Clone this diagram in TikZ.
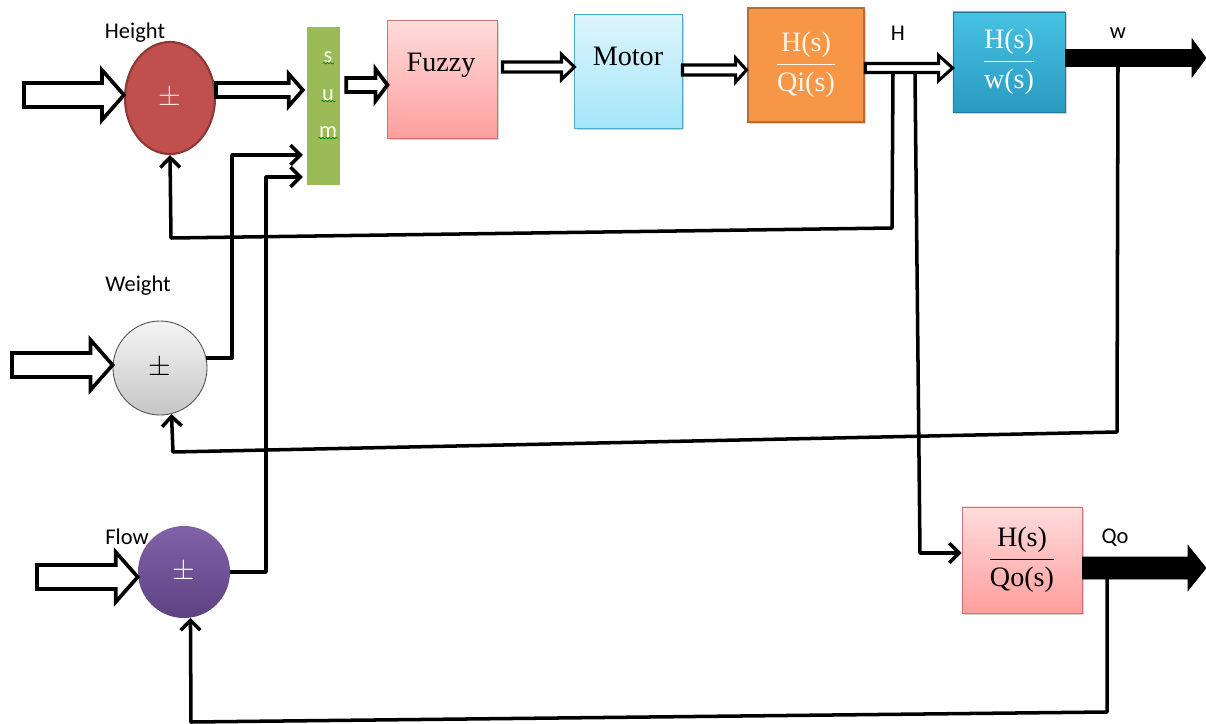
\documentclass[tikz,border=0pt]{standalone}
\usepackage{amsmath}
\usepackage{fontspec}
\setmainfont{Liberation Serif}
\newfontfamily\labelfont{Carlito}
\usetikzlibrary{shapes.geometric,arrows.meta,calc,shadows,decorations.pathmorphing}

\definecolor{hgtred}{HTML}{C0504D}
\definecolor{hgtedge}{HTML}{8C3836}
\definecolor{sumgreen}{HTML}{9BBB59}
\definecolor{qiorange}{HTML}{F79646}
\definecolor{qiedge}{HTML}{B66D31}
\definecolor{motortop}{HTML}{DDF5FD}
\definecolor{motorbot}{HTML}{A5E6F8}
\definecolor{motoredge}{HTML}{4BACC6}
\definecolor{hwtop}{HTML}{46C2E2}
\definecolor{hwbot}{HTML}{2A9AC0}
\definecolor{flwtop}{HTML}{8062A8}
\definecolor{flwbot}{HTML}{5E4382}

% block arrow (outline) from #2 to #3: half body, half head, head length
\newcommand{\hollowarrow}[6][]{%
  \draw[#1] ($(#2)+(0,#4)$) -- ($(#3)+(-#6,#4)$) -- ($(#3)+(-#6,#5)$) -- (#3)
    -- ($(#3)+(-#6,-#5)$) -- ($(#3)+(-#6,-#4)$) -- ($(#2)+(0,-#4)$) -- cycle;}

\begin{document}
\begin{tikzpicture}[
    x=0.025cm, y=-0.025cm, % pixel grid
    hollow/.style={draw=black, fill=white, line width=2.6pt, line join=miter},
    thinhollow/.style={draw=black, fill=white, line width=2.2pt, line join=miter},
    solid arrow/.style={draw=black, fill=black, line width=0.5pt},
    fb/.style={line width=2.5pt, line join=round, -{Straight Barb[length=7pt,width=14pt,line width=2.5pt]}},
    dot/.style={ellipse, inner sep=0pt, font=\fontsize{20}{20}\selectfont},
    shadowed/.style={drop shadow={opacity=0.35, shadow xshift=1.2pt, shadow yshift=-1.5pt}},
    box/.style={rectangle, inner sep=0pt, align=center, font=\fontsize{20}{24}\selectfont, shadowed},
    boxtxt/.style={inner sep=0pt, font=\fontsize{20}{24}\selectfont},
    tag/.style={font=\labelfont\fontsize{16}{18}\selectfont},
    sumletter/.style={font=\labelfont\fontsize{16}{18}\selectfont, text=yellow!8, inner sep=1pt},
    squig/.style={decorate, decoration={snake, amplitude=0.5pt, segment length=2.4pt}, draw=green!55!black, line width=0.5pt}
]
    \useasboundingbox (0,0) rectangle (1206,724);

    % Nodes
    \node[dot, fill=hgtred, draw=hgtedge, line width=1.5pt, minimum width=2.25cm, minimum height=2.8cm, text=red!10] (hgt) at (170,98) {$\pm$};
    \node[dot, top color=gray!8, bottom color=gray!45, draw=gray!60!black, line width=0.6pt, minimum size=2.35cm] (wgt) at (160,368) {$\pm$};
    \node[dot, top color=flwtop, bottom color=flwbot, minimum size=2.3cm, text=white] (flw) at (184,572) {$\pm$};

    \node[rectangle, fill=sumgreen, draw=white, line width=3pt, minimum width=0.93cm, minimum height=4.05cm,
          drop shadow={opacity=0.3, shadow xshift=1pt, shadow yshift=-1.2pt}] (sum) at (323.5,106) {};
    \node[sumletter] (sums) at (328,57) {s};
    \node[sumletter] (sumu) at (328,95) {u};
    \node[sumletter] (summ) at (328,132) {m};

    \node[box, top color=red!14, bottom color=red!38, draw=hgtred!80, line width=0.6pt, minimum width=2.73cm, minimum height=2.93cm] (fuzzy) at (442.5,79.5) {};
    \node[boxtxt] (fuzzytxt) at (441,65) {Fuzzy};
    \node[box, top color=motortop, bottom color=motorbot, draw=motoredge, line width=0.6pt, minimum width=2.68cm, minimum height=2.83cm] (motor) at (628.5,71.5) {};
    \node[boxtxt] (motortxt) at (628,56) {Motor};
    \node[box, fill=qiorange, draw=qiedge, line width=2pt, minimum width=2.9cm, minimum height=2.85cm, text=orange!8] (hqi) at (806,65)
        {$\dfrac{\text{H(s)}}{\text{Qi(s)}}$};
    \node[box, top color=hwtop, bottom color=hwbot, draw=hwbot!80!black, line width=0.5pt, minimum width=2.8cm, minimum height=2.5cm, text=white] (hw) at (1009,62)
        {$\dfrac{\text{H(s)}}{\text{w(s)}}$};
    \node[box, top color=red!14, bottom color=red!38, draw=hgtred!80, line width=0.6pt, minimum width=3cm, minimum height=2.65cm] (hqo) at (1022,560)
        {$\dfrac{\text{H(s)}}{\text{Qo(s)}}$};

    \node[tag] (lblhgt) at (135,33) {Height};
    \node[tag] (lblwgt) at (138,286) {Weight};
    \node[tag] (lblflw) at (127,537) {Flow};
    \node[tag] (lblh) at (898,33) {H};
    \node[tag] (lblw) at (1118,33) {w};
    \node[tag] (lblqo) at (1115,538) {Qo};

    % spell-check marks under the letters
    \foreach \l in {sums,sumu,summ}
        \draw[squig] ($(\l.south west)+(1,-1)$) -- ($(\l.south east)+(0,-1)$);

    % Connection points
    \coordinate (hgtin) at (24,95);
    \coordinate (wgtin) at (12,365);
    \coordinate (flwin) at (37,577);
    \coordinate (hgtout) at ($(hgt.east)+(0,-8)$);
    \coordinate (sumout) at ($(sum.east)+(2,-21)$);
    \coordinate (fuzzyout) at ($(fuzzy.east)+(5,-12.5)$);
    \coordinate (motorout) at ($(motor.east)+(0,-1.5)$);
    \coordinate (hqiout) at ($(hqi.east)+(0,3)$);
    \coordinate (hwout) at ($(hw.east)+(0,-4)$);
    \coordinate (hqoout) at ($(hqo.east)+(0,8)$);
    \coordinate (wend) at (1206,58);
    \coordinate (qoend) at (1206,568);
    \coordinate (tapa) at (893,74);
    \coordinate (tapb) at (915,74);
    \coordinate (wtap) at (1118,66);
    \coordinate (qotap) at (1107,578);

    % Connections
    \hollowarrow[hollow]{hgtin}{hgtin -| hgt.west}{12}{25}{22}
    \hollowarrow[hollow]{wgtin}{wgtin -| wgt.west}{12}{25}{22}
    \hollowarrow[hollow]{flwin}{flwin -| flw.west}{12}{25}{22}
    \hollowarrow[hollow]{hgtout}{hgtout -| sum.west}{7}{16}{14}
    \hollowarrow[hollow]{sumout}{sumout -| fuzzy.west}{7}{16}{12}
    \hollowarrow[thinhollow]{fuzzyout}{fuzzyout -| motor.west}{5}{12.5}{13}
    \hollowarrow[thinhollow]{motorout}{motorout -| hqi.west}{5}{12}{11}
    \hollowarrow[thinhollow]{hqiout}{hqiout -| hw.west}{4.5}{12.5}{14}
    \hollowarrow[solid arrow]{hwout}{wend}{8.5}{19}{14}
    \hollowarrow[solid arrow]{hqoout}{qoend}{11}{22.5}{18}

    % feedback and side lines
    \draw[fb] (tapa) -- (892,228) -- (171,238) -- (hgt.south);
    \draw[fb] (tapb) -- (920,553) coordinate (qbend) -- (qbend -| hqo.west);
    \draw[fb] (wtap) -- (1117,432) -- (173,452) -- (wgt.-76);
    \draw[fb] (qotap) -- (1107,712) -- (191,722) -- (flw.-82);
    \draw[fb] (wgt.12) -| (232,155) coordinate (wbend) -- (wbend -| sum.west);
    \draw[fb] (flw.east) -| (266,177) coordinate (fbend) -- (fbend -| sum.west);
\end{tikzpicture}
\end{document}
